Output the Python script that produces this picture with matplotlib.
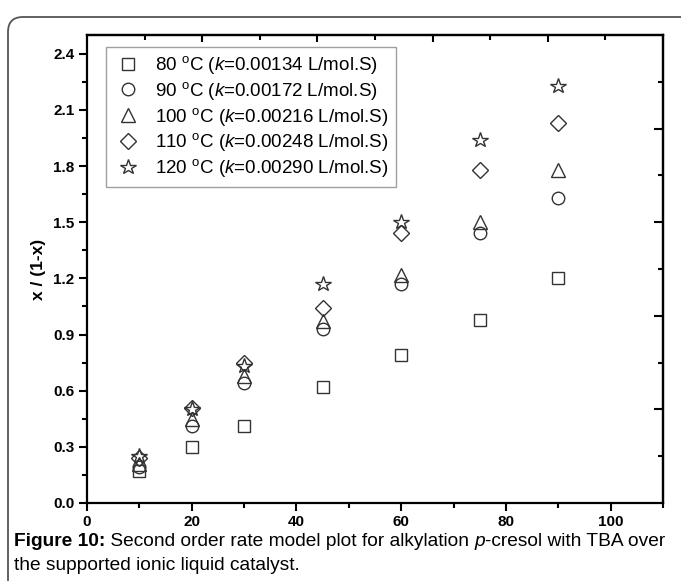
import matplotlib
matplotlib.use("Agg")
import matplotlib.pyplot as plt
import numpy as np
from matplotlib.patches import FancyBboxPatch

plt.rcParams['font.family'] = ['Liberation Sans', 'DejaVu Sans']
plt.rcParams['mathtext.fontset'] = 'custom'
plt.rcParams['mathtext.rm'] = 'Liberation Sans'
plt.rcParams['mathtext.it'] = 'Liberation Sans:italic'
plt.rcParams['mathtext.bf'] = 'Liberation Sans:bold'

# time (min) and x/(1-x) for each temperature
time = [10, 20, 30, 45, 60, 75, 90]
temps = [80, 90, 100, 110, 120]
k_vals = ['0.00134', '0.00172', '0.00216', '0.00248', '0.00290']
y80 = [0.17, 0.30, 0.41, 0.62, 0.79, 0.98, 1.20]
y90 = [0.19, 0.41, 0.64, 0.93, 1.17, 1.44, 1.63]
y100 = [0.21, 0.45, 0.68, 0.97, 1.22, 1.50, 1.78]
y110 = [0.24, 0.51, 0.75, 1.04, 1.44, 1.78, 2.03]
y120 = [0.25, 0.50, 0.73, 1.17, 1.50, 1.94, 2.23]
series = [y80, y90, y100, y110, y120]

markers = ['s', 'o', '^', 'D', '*']
msizes = [8, 9, 10, 7.8, 11.5]

W, H = 681, 581
fig = plt.figure(figsize=(W / 100, H / 100), dpi=100)
ax = fig.add_axes([87 / W, 1 - 503 / H, (663 - 87) / W, (503 - 35) / H])

for ys, t, k, m, s in zip(series, temps, k_vals, markers, msizes):
    lab = f"{t} $^{{\\rm o}}$C ($k$={k} L/mol.S)"
    ax.plot(time, ys, linestyle='none', marker=m, markersize=s,
            markerfacecolor='none', markeredgecolor='#333333',
            markeredgewidth=1.0, label=lab, clip_on=False)

ax.set_xlim(0, 110)
ax.set_ylim(0, 2.5)
ax.set_xticks(np.arange(0, 101, 20))
ax.set_xticks(np.arange(0, 111, 10), minor=True)
ax.set_yticks(np.arange(0, 2.41, 0.3))
ax.set_yticks(np.arange(0, 2.5, 0.15), minor=True)
ax.set_yticklabels([f"{v:.1f}" for v in np.arange(0, 2.41, 0.3)])
for lbl in ax.get_xticklabels() + ax.get_yticklabels():
    lbl.set_fontweight('bold')
ax.tick_params(which='major', direction='out', length=6, width=1.5, labelsize=11, pad=3)
ax.tick_params(which='minor', direction='out', length=3.5, width=1.5)
for sp in ax.spines.values():
    sp.set_linewidth(1.6)
ax.set_ylabel('x / (1-x)', fontsize=12.5, fontweight='bold', labelpad=5)

# top and right axes with their own ticks
top = ax.secondary_xaxis('top')
top.set_xticks(np.arange(22, 110, 22))
top.set_xticks(np.arange(11, 110, 22), minor=True)
top.tick_params(which='major', direction='in', length=5, width=1.5, labeltop=False)
top.tick_params(which='minor', direction='in', length=3.5, width=1.5)
top.spines['top'].set_linewidth(1.6)

right = ax.secondary_yaxis('right')
right.set_yticks(np.arange(0.5, 2.5, 0.5))
right.set_yticks(np.arange(0.25, 2.5, 0.5), minor=True)
right.tick_params(which='major', direction='in', length=6.5, width=1.5, labelright=False)
right.tick_params(which='minor', direction='in', length=3.5, width=1.5)
right.spines['right'].set_linewidth(1.6)

leg = ax.legend(loc='upper left', bbox_to_anchor=(0.033, 0.975), borderaxespad=0,
                fontsize=13.5, frameon=True, fancybox=False, edgecolor='#888888',
                handlelength=1.5, handletextpad=0.7, borderpad=0.4,
                labelspacing=0.2)
leg.get_frame().set_linewidth(1.0)

# rounded outer frame around figure and caption
box = FancyBboxPatch((0.08, -0.5), 7.2, 5.81 - 0.17 + 0.5,
                     boxstyle="round,pad=0,rounding_size=0.15",
                     transform=fig.dpi_scale_trans, facecolor='none',
                     edgecolor='#555555', linewidth=1.3, clip_on=False)
fig.patches.append(box)

# caption written piece by piece so bold / italic parts sit inline
def caption_line(pieces, x0, y0, size):
    fig.canvas.draw()
    r = fig.canvas.get_renderer()
    x = x0
    for txt, kw in pieces:
        t = fig.text(x, y0, txt, fontsize=size, va='center', ha='left', **kw)
        bb = t.get_window_extent(renderer=r)
        x += bb.width / W

cap_size = 13.8
caption_line([("Figure 10:", dict(fontweight='bold')),
              (" Second order rate model plot for alkylation ", {}),
              ("p", dict(fontstyle='italic')),
              ("-cresol with TBA over", {})],
             14 / W, 1 - 541 / H, cap_size)
fig.text(14 / W, 1 - 566 / H, "the supported ionic liquid catalyst.",
         fontsize=cap_size, va='center', ha='left')

fig.savefig("out.png", dpi=100)
